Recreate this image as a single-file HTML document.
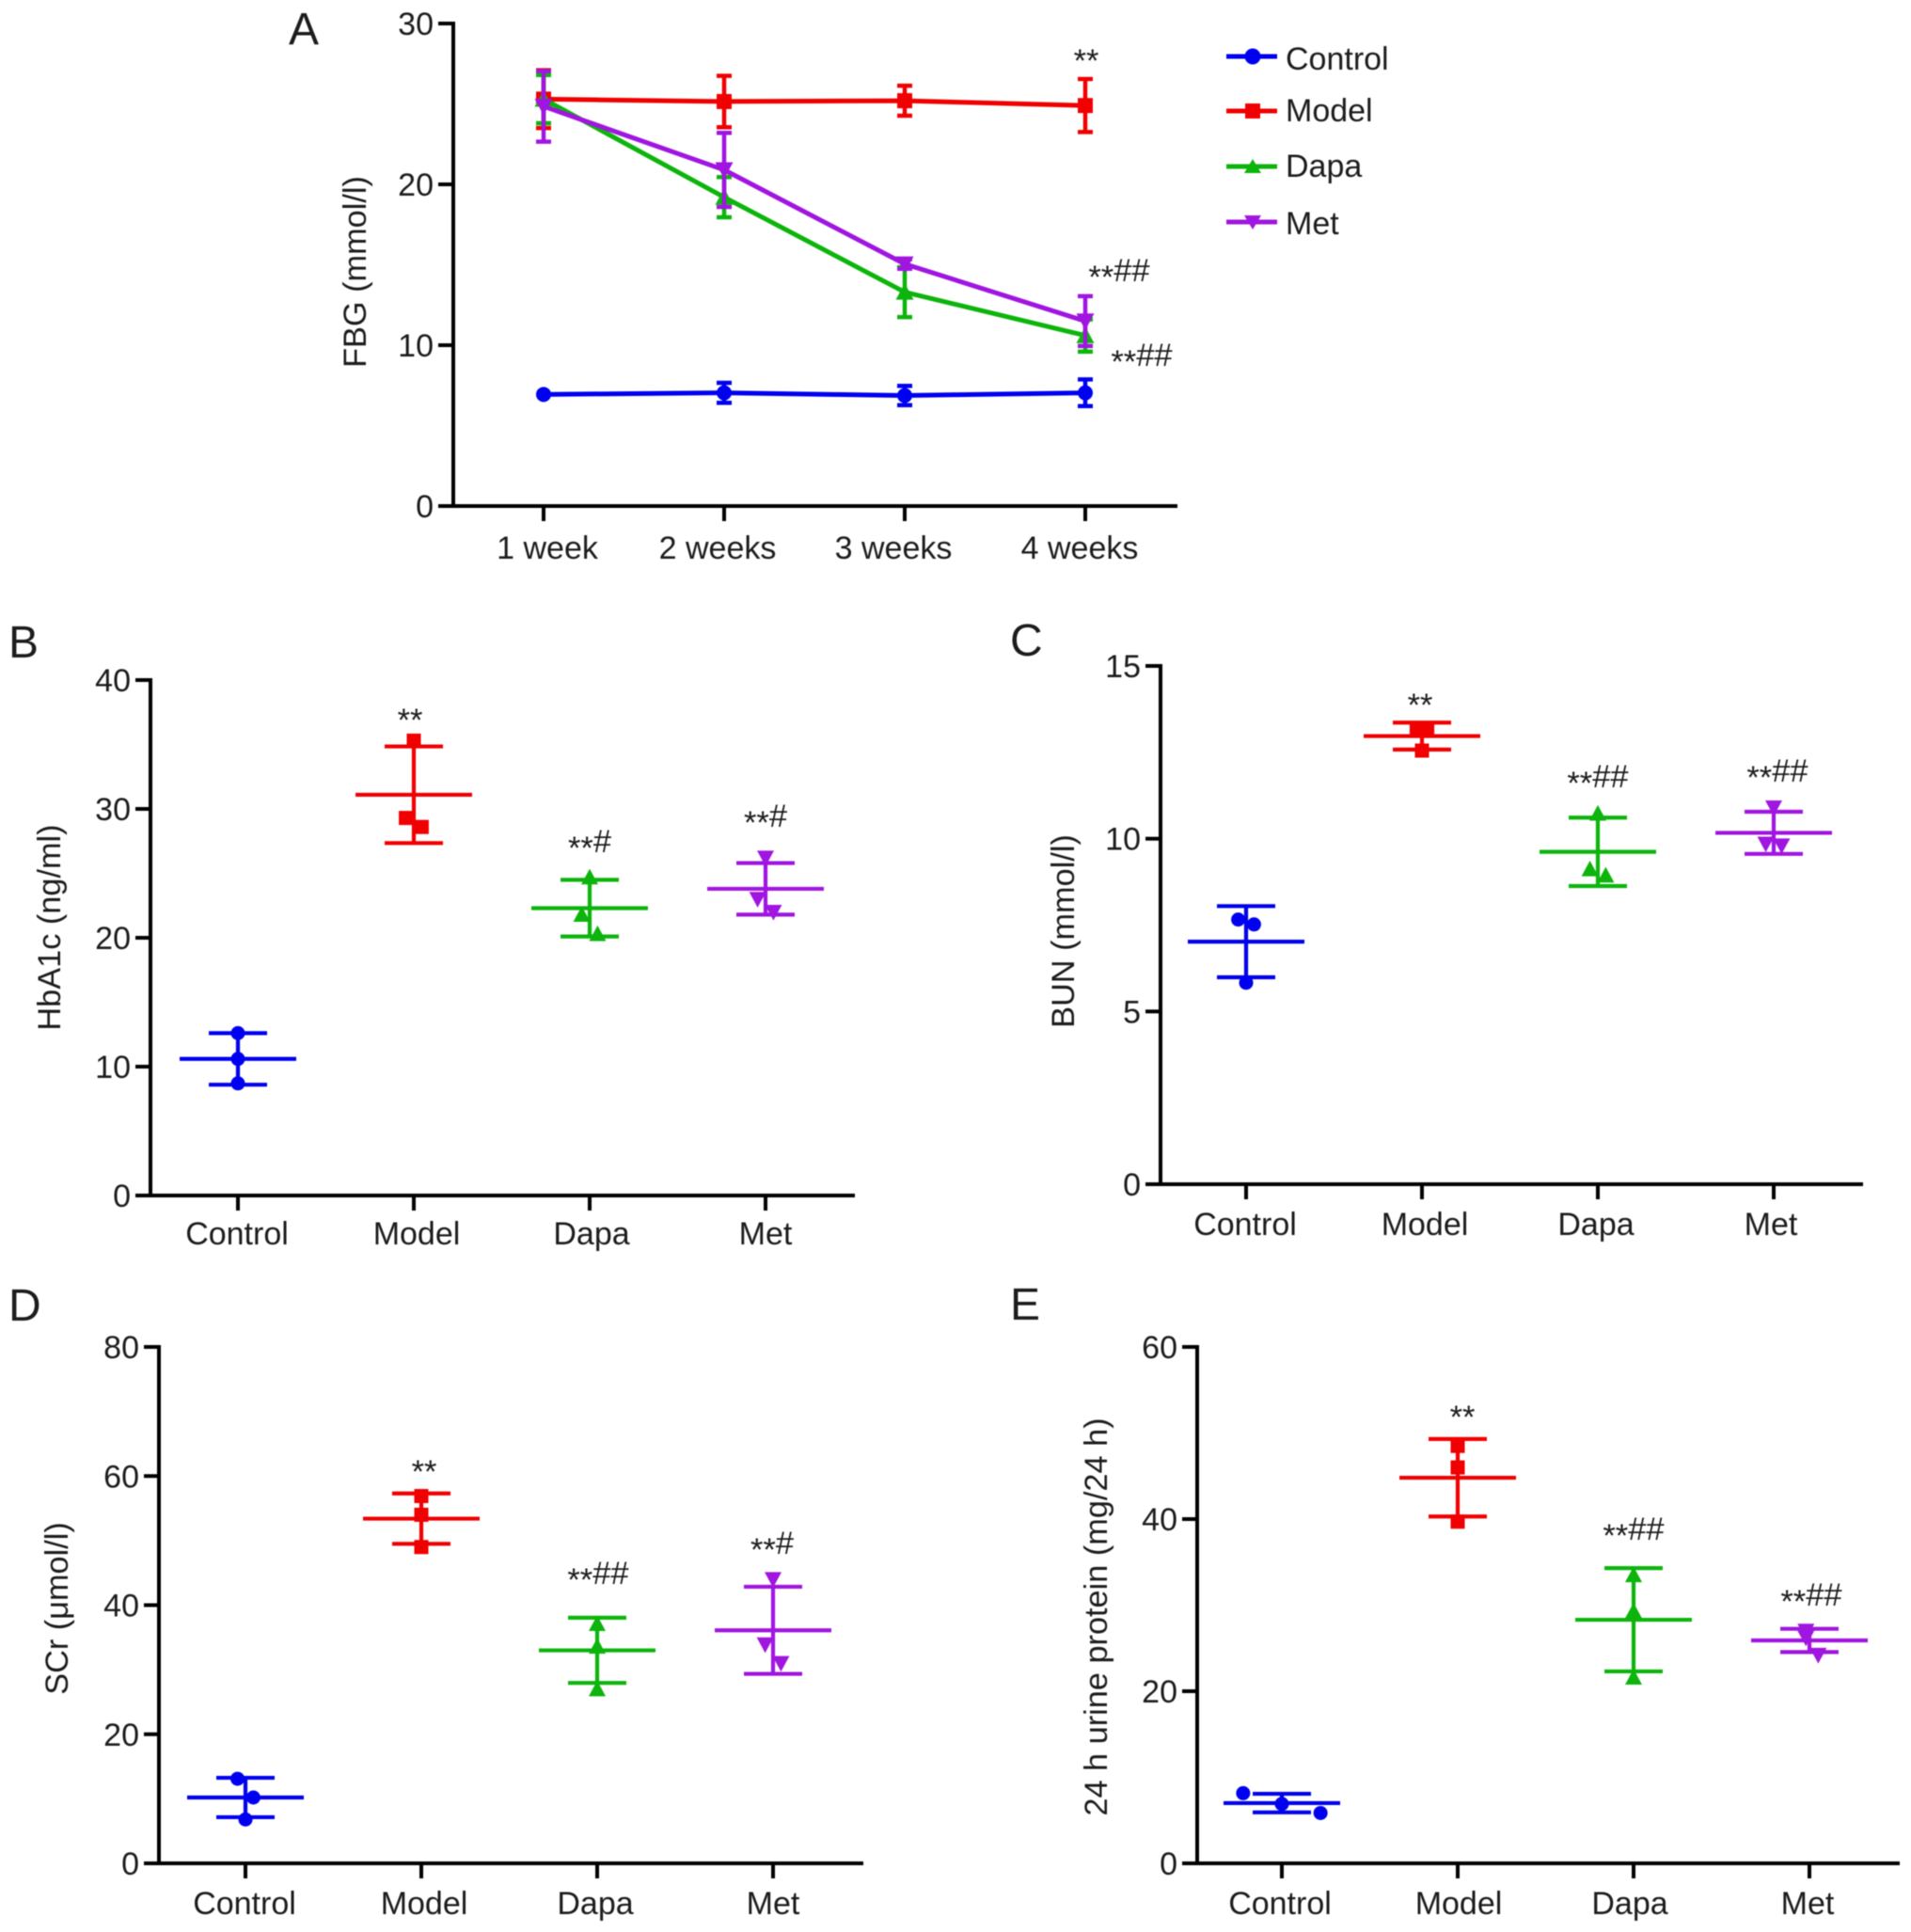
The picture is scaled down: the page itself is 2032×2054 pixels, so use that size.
<!DOCTYPE html>
<html lang="en">
<head>
<meta charset="utf-8">
<title>Metabolic and renal markers by treatment group</title>
<style>
  html, body { margin: 0; padding: 0; background: #fff; }
  #figure { display: block; width: 2032px; height: 2054px; filter: blur(0.6px); }
  text { font-family: "Liberation Sans", Arial, sans-serif; fill: #1c1c1c; }
  .tick { font-size: 34px; }
  .title { font-size: 34.3px; text-anchor: middle; }
  .letter { font-size: 48px; }
  .sig { font-size: 34.5px; text-anchor: middle; }
  .legend { font-size: 34px; }
</style>
</head>
<body>
<svg id="figure" xmlns="http://www.w3.org/2000/svg" width="2032" height="2054" viewBox="0 0 2032 2054">
  <rect width="2032" height="2054" fill="#fff"/>

  <text class="letter" x="307" y="47">A</text>
  <text class="letter" x="9" y="699">B</text>
  <text class="letter" x="1074" y="697">C</text>
  <text class="letter" x="9" y="1404">D</text>
  <text class="letter" x="1074" y="1403">E</text>

  <text class="title" transform="translate(389 289) rotate(-90)">FBG (mmol/l)</text>
  <text class="title" transform="translate(64 986) rotate(-90)">HbA1c (ng/ml)</text>
  <text class="title" transform="translate(1142 990) rotate(-90)">BUN (mmol/l)</text>
  <text class="title" transform="translate(72 1710) rotate(-90)">SCr (μmol/l)</text>
  <text class="title" transform="translate(1177 1719) rotate(-90)">24 h urine protein (mg/24 h)</text>

  <g>
    <text class="sig" x="1155" y="69"><tspan dy="7">**</tspan></text>
    <text class="sig" x="1190" y="299"><tspan dy="7">**</tspan><tspan dy="-7">##</tspan></text>
    <text class="sig" x="1214" y="389"><tspan dy="7">**</tspan><tspan dy="-7">##</tspan></text>
    <text class="sig" x="436" y="770"><tspan dy="7">**</tspan></text>
    <text class="sig" x="627" y="906"><tspan dy="7">**</tspan><tspan dy="-7">#</tspan></text>
    <text class="sig" x="814" y="879"><tspan dy="7">**</tspan><tspan dy="-7">#</tspan></text>
    <text class="sig" x="1510" y="754"><tspan dy="7">**</tspan></text>
    <text class="sig" x="1699" y="837"><tspan dy="7">**</tspan><tspan dy="-7">##</tspan></text>
    <text class="sig" x="1890" y="831"><tspan dy="7">**</tspan><tspan dy="-7">##</tspan></text>
    <text class="sig" x="451" y="1569"><tspan dy="7">**</tspan></text>
    <text class="sig" x="636" y="1684"><tspan dy="7">**</tspan><tspan dy="-7">##</tspan></text>
    <text class="sig" x="821" y="1652"><tspan dy="7">**</tspan><tspan dy="-7">#</tspan></text>
    <text class="sig" x="1555" y="1511"><tspan dy="7">**</tspan></text>
    <text class="sig" x="1737" y="1637"><tspan dy="7">**</tspan><tspan dy="-7">##</tspan></text>
    <text class="sig" x="1926" y="1707"><tspan dy="7">**</tspan><tspan dy="-7">##</tspan></text>
  </g>

  <g>
    <g>
      <line x1="1304" x2="1358" y1="60" y2="60" stroke="#0000f0" stroke-width="5"/>
      <circle cx="1332" cy="60" r="8.5" fill="#0000f0"/>
      <text class="legend" x="1367" y="74">Control</text>
    </g>
    <g>
      <line x1="1304" x2="1358" y1="118" y2="118" stroke="#f00000" stroke-width="5"/>
      <rect x="1324" y="110" width="16" height="16" fill="#f00000"/>
      <text class="legend" x="1367" y="129">Model</text>
    </g>
    <g>
      <line x1="1304" x2="1358" y1="177" y2="177" stroke="#0cb40c" stroke-width="5"/>
      <polygon points="1332,169 1341,184 1323,184" fill="#0cb40c"/>
      <text class="legend" x="1367" y="188">Dapa</text>
    </g>
    <g>
      <line x1="1304" x2="1358" y1="236" y2="236" stroke="#a015e0" stroke-width="5"/>
      <polygon points="1323,229 1341,229 1332,244" fill="#a015e0"/>
      <text class="legend" x="1367" y="249">Met</text>
    </g>
  </g>

  <g id="charts"></g>
</svg>

<script>
// ---- shared labels ----
const groups = ['Control', 'Model', 'Dapa', 'Met'];
const weeks = ['1 week', '2 weeks', '3 weeks', '4 weeks'];

// ---- Panel A: FBG over time ----
const fbgTicks = [0, 10, 20, 30];
const fbgControl = [6.94, 7.04, 6.87, 7.04];
const fbgControlErr = [0, 0.62, 0.6, 0.83];
const fbgModel = [25.3, 25.15, 25.2, 24.9];
const fbgModelErr = [1.8, 1.6, 0.93, 1.65];
const fbgDapa = [25.3, 19.2, 13.3, 10.6];
const fbgDapaErr = [1.5, 1.25, 1.55, 1.0];
const fbgMet = [24.85, 20.9, 15.05, 11.5];
const fbgMetErr = [2.2, 2.3, 0.3, 1.55];

// ---- Panel B: HbA1c ----
const hba1cTicks = [0, 10, 20, 30, 40];
const hba1cMean = [10.6, 31.1, 22.3, 23.8];
const hba1cSd = [2.0, 3.75, 2.2, 2.0];
const hba1cControl = [12.6, 10.6, 8.7];
const hba1cModel = [35.3, 29.3, 28.6];
const hba1cDapa = [24.7, 21.8, 20.3];
const hba1cMet = [26.2, 23.0, 22.0];

// ---- Panel C: BUN ----
const bunTicks = [0, 5, 10, 15];
const bunMean = [7.02, 12.97, 9.62, 10.17];
const bunSd = [1.03, 0.39, 0.99, 0.61];
const bunControl = [7.66, 7.52, 5.83];
const bunModel = [13.2, 13.2, 12.55];
const bunDapa = [10.73, 9.12, 8.94];
const bunMet = [10.9, 9.85, 9.8];

// ---- Panel D: SCr ----
const scrTicks = [0, 20, 40, 60, 80];
const scrMean = [10.2, 53.4, 33, 36.1];
const scrSd = [3.05, 3.9, 5.05, 6.75];
const scrControl = [13.1, 10.2, 6.8];
const scrModel = [56.9, 54, 49];
const scrDapa = [37.1, 33.6, 27];
const scrMet = [44, 33.9, 31];

// ---- Panel E: 24 h urine protein ----
const urineTicks = [0, 20, 40, 60];
const urineMean = [7, 44.8, 28.3, 25.9];
const urineSd = [1.08, 4.5, 6, 1.35];
const urineControl = [8.15, 6.9, 5.85];
const urineModel = [48.5, 46, 39.7];
const urineDapa = [33.5, 29.3, 21.6];
const urineMet = [27, 26.2, 24.2];

const palette = ['#0000f0', '#f00000', '#0cb40c', '#a015e0'];
const seriesKey = ['control', 'model', 'dapa', 'met'];
const SVGNS = 'http://www.w3.org/2000/svg';
const root = document.getElementById('charts');

function shape(parent, tag, attrs) {
  const node = document.createElementNS(SVGNS, tag);
  for (const k in attrs) node.setAttribute(k, attrs[k]);
  parent.appendChild(node);
  return node;
}

function marker(parent, kind, x, y, s, color) {
  if (kind === 0) return shape(parent, 'circle', { cx: x, cy: y, r: s, fill: color });
  if (kind === 1) return shape(parent, 'rect', { x: x - s, y: y - s, width: 2 * s, height: 2 * s, fill: color });
  const t = s + 1.5;
  if (kind === 2) return shape(parent, 'polygon', { points: `${x},${y - t} ${x + t},${y + t * 0.85} ${x - t},${y + t * 0.85}`, fill: color });
  return shape(parent, 'polygon', { points: `${x - t},${y - t * 0.85} ${x + t},${y - t * 0.85} ${x},${y + t}`, fill: color });
}

function drawAxes(cfg) {
  const g = shape(root, 'g', {});
  
  
  const yAxis = shape(g, 'line', { x1: cfg.axisX, x2: cfg.axisX, y1: cfg.yTop - 2, y2: cfg.y0 + 2, stroke: '#000', 'stroke-width': 4 });
  
  
  const xAxis = shape(g, 'line', { x1: cfg.axisX - 16, x2: cfg.xEnd, y1: cfg.y0, y2: cfg.y0, stroke: '#000', 'stroke-width': 4 });
  
  
  cfg.ticks.forEach(function (v) {
    const y = cfg.yScale(v);
    const tick = shape(g, 'line', { x1: cfg.axisX - 16, x2: cfg.axisX, y1: y, y2: y, stroke: '#000', 'stroke-width': 4 });
    
    
    const label = shape(g, 'text', { class: 'tick', x: cfg.axisX - 21, y: y + 12, 'text-anchor': 'end' });
    
    
    label.textContent = v;
  });
  cfg.categories.forEach(function (c, i) {
    const x = cfg.xScale(i);
    const tick = shape(g, 'line', { x1: x, x2: x, y1: cfg.y0, y2: cfg.y0 + 16, stroke: '#000', 'stroke-width': 4 });
    
    
    const label = shape(g, 'text', { class: 'tick', x: x + cfg.labelShift[i], y: cfg.labelY + 12, 'text-anchor': 'middle' });
    
    
    label.textContent = c;
  });
}

function withScales(cfg) {
  cfg.xScale = function (i) { return cfg.xFirst + i * cfg.xStep; };
  cfg.yScale = function (v) { return cfg.y0 - (v / cfg.yMax) * (cfg.y0 - cfg.yTop); };
  return cfg;
}

function drawLineChart(cfg) {
  drawAxes(cfg);
  cfg.series.forEach(function (s, k) {
    const color = palette[k];
    const g = shape(root, 'g', {});
    
    
    s.values.forEach(function (v, i) {
      if (s.err[i] <= 0) return;
      const x = cfg.xScale(i);
      const top = cfg.yScale(v + s.err[i]);
      const bot = cfg.yScale(v - s.err[i]);
      const bar = shape(g, 'path', {
        d: `M${x - 8} ${top}H${x + 8}M${x} ${top}V${bot}M${x - 8} ${bot}H${x + 8}`,
        stroke: color, 'stroke-width': 4.5, fill: 'none'
      });
      
      
    });
    const line = shape(g, 'polyline', {
      points: s.values.map(function (v, i) { return cfg.xScale(i) + ',' + cfg.yScale(v); }).join(' '),
      stroke: color, 'stroke-width': 5, fill: 'none', 'stroke-linejoin': 'round'
    });
    
    
    s.values.forEach(function (v, i) {
      const m = marker(g, k, cfg.xScale(i), cfg.yScale(v), 8, color);
      
      
    });
  });
}

function drawScatterChart(cfg) {
  drawAxes(cfg);
  cfg.categories.forEach(function (c, k) {
    const color = palette[k];
    const x = cfg.xScale(k);
    const g = shape(root, 'g', {});
    
    
    const hi = cfg.yScale(cfg.mean[k] + cfg.sd[k]);
    const lo = cfg.yScale(cfg.mean[k] - cfg.sd[k]);
    const bar = shape(g, 'path', {
      d: `M${x - 31} ${hi}H${x + 31}M${x} ${hi}V${lo}M${x - 31} ${lo}H${x + 31}`,
      stroke: color, 'stroke-width': 4.2, fill: 'none'
    });
    
    
    const my = cfg.yScale(cfg.mean[k]);
    const meanLine = shape(g, 'line', { x1: x - 62, x2: x + 62, y1: my, y2: my, stroke: color, 'stroke-width': 4.2 });
    
    
    cfg.points[k].forEach(function (v, j) {
      const px = x + cfg.jitter[k][j] * cfg.xStep;
      const m = marker(g, k, px, cfg.yScale(v), 7.5, color);
      
      
    });
  });
}

drawLineChart(withScales({
  id: 'fbg', categories: weeks, ticks: fbgTicks, yMax: 30,
  axisX: 482, y0: 538, yTop: 25, xFirst: 578, xStep: 192, xEnd: 1252, labelY: 582,
  labelShift: [4, -7, -12, -6],
  series: [
    { values: fbgControl, err: fbgControlErr },
    { values: fbgModel, err: fbgModelErr },
    { values: fbgDapa, err: fbgDapaErr },
    { values: fbgMet, err: fbgMetErr }
  ]
}));

drawScatterChart(withScales({
  id: 'hba1c', categories: groups, ticks: hba1cTicks, yMax: 40,
  axisX: 160, y0: 1271, yTop: 723, xFirst: 253, xStep: 187, xEnd: 909, labelY: 1311,
  labelShift: [-1, 3, 2, 0],
  mean: hba1cMean, sd: hba1cSd,
  points: [hba1cControl, hba1cModel, hba1cDapa, hba1cMet],
  jitter: [[0, 0, 0], [0, -0.045, 0.045], [0, -0.045, 0.045], [0, -0.045, 0.045]]
}));

drawScatterChart(withScales({
  id: 'bun', categories: groups, ticks: bunTicks, yMax: 15,
  axisX: 1234, y0: 1259, yTop: 708, xFirst: 1325, xStep: 187, xEnd: 1981, labelY: 1301,
  labelShift: [-1, 3, -2, -3],
  mean: bunMean, sd: bunSd,
  points: [bunControl, bunModel, bunDapa, bunMet],
  jitter: [[-0.045, 0.045, 0], [-0.03, 0.03, 0], [0, -0.045, 0.045], [0, -0.045, 0.045]]
}));

drawScatterChart(withScales({
  id: 'scr', categories: groups, ticks: scrTicks, yMax: 80,
  axisX: 169, y0: 1981, yTop: 1432, xFirst: 261, xStep: 187, xEnd: 918, labelY: 2023,
  labelShift: [-1, 3, -2, 0],
  mean: scrMean, sd: scrSd,
  points: [scrControl, scrModel, scrDapa, scrMet],
  jitter: [[-0.045, 0.045, 0], [0, 0, 0], [0, 0, 0], [0, -0.045, 0.045]]
}));

drawScatterChart(withScales({
  id: 'urine', categories: groups, ticks: urineTicks, yMax: 60,
  axisX: 1273, y0: 1981, yTop: 1432, xFirst: 1363, xStep: 187, xEnd: 2020, labelY: 2023,
  labelShift: [-2, 1, -4, -2],
  mean: urineMean, sd: urineSd,
  points: [urineControl, urineModel, urineDapa, urineMet],
  jitter: [[-0.22, 0, 0.22], [0, 0, 0], [0, 0, 0], [-0.02, -0.02, 0.05]]
}));
</script>
</body>
</html>
